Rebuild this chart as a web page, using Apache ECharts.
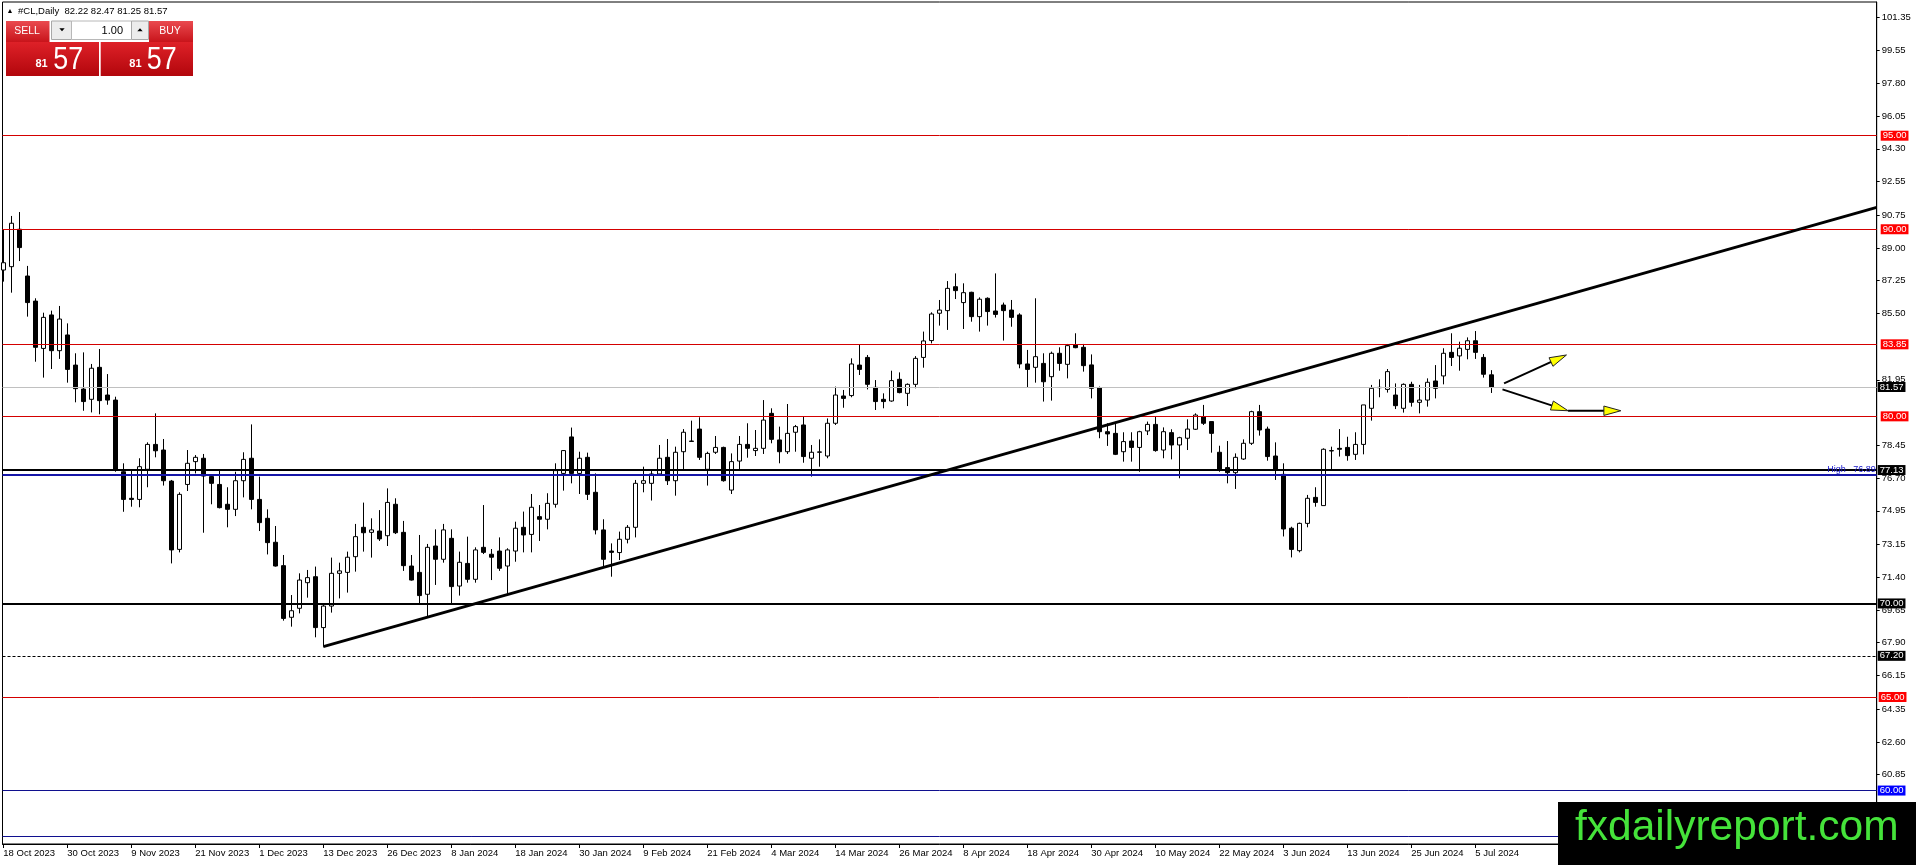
<!DOCTYPE html>
<html><head><meta charset="utf-8">
<script src="https://cdn.jsdelivr.net/npm/echarts@6/dist/echarts.min.js"></script>
<style>html,body{margin:0;padding:0;background:#fff;overflow:hidden}#c{width:1916px;height:865px}</style>
</head><body><div id="c"></div>
<script>
// ---- data ----
const symbolName = '#CL,Daily';
const dateLabels = ['18 Oct 2023','30 Oct 2023','9 Nov 2023','21 Nov 2023','1 Dec 2023','13 Dec 2023','26 Dec 2023','8 Jan 2024','18 Jan 2024','30 Jan 2024','9 Feb 2024','21 Feb 2024','4 Mar 2024','14 Mar 2024','26 Mar 2024','8 Apr 2024','18 Apr 2024','30 Apr 2024','10 May 2024','22 May 2024','3 Jun 2024','13 Jun 2024','25 Jun 2024','5 Jul 2024'];
const dateLabelIdx = [0,8,16,24,32,40,48,56,64,72,80,88,96,104,112,120,128,136,144,152,160,168,176,184];
const opens = [87.82,88.00,90.00,87.50,86.16,83.63,85.42,83.51,84.35,82.74,
81.46,80.91,82.62,81.14,80.87,77.04,75.62,75.56,77.17,78.50,
78.20,76.54,72.89,76.36,77.58,77.76,76.78,76.36,75.30,75.03,
76.56,77.76,75.56,74.55,73.27,72.02,69.26,69.74,71.11,71.43,
68.71,69.86,71.61,71.66,72.50,74.07,73.80,73.87,73.62,75.30,
73.80,72.00,71.66,70.49,73.07,72.36,73.48,70.93,72.14,71.29,
73.00,72.63,72.80,72.00,72.80,74.07,73.69,74.64,74.50,75.30,
76.95,78.90,76.95,77.81,75.94,73.93,72.80,72.72,73.43,74.07,
76.42,76.42,76.92,77.81,76.56,78.11,78.68,79.32,77.17,78.08,
78.34,76.06,77.61,78.50,78.17,78.29,80.16,78.74,78.11,79.15,
79.54,77.76,78.08,77.88,79.63,81.09,81.11,82.74,83.15,81.55,
80.91,80.82,81.98,81.23,81.71,83.15,84.05,85.51,85.65,86.93,
86.08,86.63,85.33,86.31,85.63,85.95,85.68,85.42,82.80,82.62,
82.83,82.12,83.37,82.78,83.81,83.69,82.75,81.53,79.18,79.09,
78.11,78.68,78.34,79.22,79.57,78.20,79.13,78.47,78.83,79.31,
79.98,79.72,78.08,77.26,76.99,77.72,78.56,80.25,79.32,77.88,
76.90,74.02,72.82,74.28,75.67,75.23,78.15,78.29,78.34,77.97,
78.50,80.43,81.53,81.44,81.14,80.43,81.71,80.75,80.87,81.89,
82.16,83.42,83.23,83.58,84.04,83.15,82.22];
const highs = [89.96,90.71,90.92,88.04,86.31,85.54,85.65,85.90,84.97,83.37,
83.42,82.80,83.60,82.26,81.05,77.49,77.10,77.76,78.61,80.16,
78.79,76.60,75.94,78.20,77.93,77.99,76.81,77.10,76.21,77.04,
78.08,79.57,76.78,75.03,74.14,72.59,70.45,71.61,71.79,71.97,
69.92,72.45,72.18,72.77,74.25,75.39,74.55,74.99,76.15,75.62,
74.41,72.59,73.66,73.18,73.96,74.25,73.96,72.77,73.57,73.00,
75.26,72.91,73.53,72.95,74.37,74.91,75.85,75.26,75.89,77.49,
78.20,79.40,78.11,78.06,76.95,74.50,73.21,73.84,74.19,76.60,
77.31,77.10,78.47,78.79,78.38,79.32,79.77,79.95,78.11,78.95,
78.38,78.02,78.95,79.63,79.27,80.87,80.43,79.45,80.66,79.54,
79.98,78.47,78.77,79.89,81.59,81.41,83.10,83.83,83.28,81.94,
81.23,82.44,82.35,81.76,83.22,84.53,85.56,86.22,87.23,87.64,
87.11,86.66,86.36,86.36,87.64,86.08,86.22,85.51,83.55,86.31,
83.37,83.46,83.69,83.87,84.44,83.87,83.31,81.59,79.63,79.59,
79.15,79.15,79.23,79.72,79.98,79.41,79.31,78.91,79.84,80.16,
80.61,79.72,78.43,78.68,78.02,78.77,80.30,80.61,79.45,78.61,
77.49,74.10,74.32,75.80,76.21,78.29,78.38,79.32,78.91,79.15,
80.61,81.68,81.98,82.53,81.76,81.76,81.85,81.68,82.03,82.74,
83.64,84.44,83.99,84.22,84.56,83.33,82.47];
const lows = [87.20,86.61,88.30,85.33,82.92,82.07,82.53,83.07,81.80,80.75,
80.30,80.21,80.11,80.62,77.04,74.90,75.17,75.14,76.21,77.81,
76.30,72.14,72.73,76.01,76.95,73.78,75.30,75.08,74.07,74.67,
75.67,75.03,73.87,72.62,71.97,69.08,68.76,69.47,70.31,68.19,
67.69,69.51,70.27,70.58,71.70,72.77,72.45,73.34,73.07,73.71,
71.74,71.22,70.01,69.29,70.99,72.18,70.01,70.42,71.11,71.11,
72.64,71.25,71.74,70.50,72.23,72.73,72.73,73.34,73.96,75.12,
76.03,76.42,75.85,75.53,73.69,71.97,71.43,72.32,73.21,73.53,
75.94,75.50,76.83,76.33,75.76,77.17,78.65,77.67,76.30,77.99,
76.51,75.85,77.17,77.79,77.88,77.99,78.56,77.49,77.99,78.11,
77.52,76.78,77.31,77.76,79.54,80.46,81.02,82.21,81.44,80.34,
80.43,80.78,81.23,80.55,81.50,82.60,83.90,84.85,84.62,86.27,
84.67,85.06,84.53,84.85,85.28,84.05,84.79,82.57,81.53,81.80,
80.79,80.84,82.44,82.03,83.64,82.39,80.96,78.83,78.42,77.93,
77.58,77.58,77.04,79.00,78.11,77.76,77.70,76.69,78.20,79.27,
79.54,78.06,77.04,76.42,76.12,77.67,78.47,78.97,77.63,76.60,
73.58,72.46,72.73,74.07,75.17,75.23,77.13,77.85,77.63,77.67,
77.97,79.77,81.02,81.27,80.39,80.20,80.52,80.16,80.52,80.96,
81.71,82.69,82.44,83.05,83.07,82.07,81.25];
const closes = [88.21,90.32,89.02,86.08,83.69,85.29,83.51,85.20,82.51,81.48,
80.79,82.57,80.84,80.87,77.13,75.56,75.56,77.31,78.50,78.16,
76.56,72.86,75.83,77.49,77.81,76.81,76.42,75.12,75.03,76.56,
77.70,75.56,74.32,73.25,72.00,69.20,69.61,71.25,71.38,68.71,
69.86,71.61,71.74,72.47,73.57,73.78,73.93,73.45,75.40,73.78,
72.02,71.25,70.42,73.00,72.36,73.93,70.90,72.20,71.29,72.86,
72.73,72.47,71.88,72.86,74.02,73.66,75.14,74.50,75.35,77.10,
78.17,76.95,77.76,75.83,73.93,72.36,72.73,73.43,74.07,76.42,
76.56,76.92,77.76,76.56,78.08,79.15,78.66,77.81,78.02,78.34,
76.56,77.58,78.50,78.29,78.29,79.80,78.77,78.11,79.09,79.45,
77.85,78.08,78.10,79.63,81.14,80.96,82.80,82.51,81.71,80.79,
80.79,81.91,81.27,81.71,83.10,84.03,85.47,85.68,86.84,86.72,
86.61,85.33,86.26,85.60,85.45,85.65,85.29,82.80,82.51,83.19,
81.85,83.37,82.83,83.78,83.67,82.71,81.50,79.18,79.06,77.97,
78.65,78.34,79.18,79.57,78.17,79.18,78.47,78.86,79.32,80.07,
79.63,79.09,77.13,76.99,77.81,78.56,80.25,79.27,77.85,77.13,
73.98,72.89,74.28,75.62,75.40,78.24,78.17,78.24,77.90,78.50,
80.61,81.50,81.55,82.39,80.57,81.71,80.75,80.87,81.82,81.50,
83.37,83.15,83.64,84.04,83.42,82.25,81.57];
const yTicks = [101.35,99.55,97.80,96.05,94.30,92.55,90.75,89.00,87.25,85.50,81.95,78.45,76.70,74.95,73.15,71.40,69.65,67.90,66.15,64.35,62.60,60.85];
const levelPrices = [95.00,90.00,83.85,81.57,80.00,77.13,76.89,70.00,67.20,65.00,60.00,57.55];
const trendLine = [[40,67.69],[234.18,91.17]];
const arrowPaths = [
  [[187.6,81.76],[195.4,83.28]],
  [[187.4,81.44],[195.6,80.30]],
  [[195.6,80.30],[202.2,80.30]]
];
const lotSize = '1.00';

// ---- styles ----
const FONT = 'Liberation Sans';
const RED = '#d40000', REDBOX = '#ff0000';
const levelStyles = [
  {line:RED, w:1, bg:REDBOX, d:4},
  {line:RED, w:1, bg:REDBOX, d:4},
  {line:RED, w:1, bg:REDBOX, d:4},
  {line:'#c0c0c0', w:1, bg:'#000', d:1},
  {line:RED, w:1, bg:REDBOX, d:4},
  {line:'#000', w:2, bg:'#000', d:1},
  {line:'#1515a8', w:2, high:true},
  {line:'#000', w:2, bg:'#000', d:1},
  {line:'#000', w:1, bg:'#000', d:1, dash:[3,2]},
  {line:RED, w:1, bg:REDBOX, d:2},
  {line:'#10108f', w:1, bg:'#0000ff', d:1},
  {line:'#10108f', w:1, none:true}
];

const candleData = opens.map((o,i)=>[i, o, closes[i], lows[i], highs[i]]);
const labelMap = {};
dateLabelIdx.forEach((v,k)=>{ labelMap[v] = dateLabels[k]; });

const markData = levelPrices.map((p,i)=>{
  const s = levelStyles[i];
  const item = {yAxis:p, lineStyle:{color:s.line, width:s.w, type: s.dash ? s.dash : 'solid'}};
  if (s.none) item.label = {show:false};
  else if (s.high) item.label = {show:true, position:'insideEndTop', formatter:'High   '+p.toFixed(2), color:'#1515c8', fontSize:9, fontFamily:FONT, distance:1};
  else item.label = {show:true, position:'end', formatter:p.toFixed(2), color:'#fff', backgroundColor:s.bg, fontSize:9.5, fontFamily:FONT, lineHeight:10, padding:[0,2,0,2], distance:s.d};
  return item;
});

const last = opens.length-1;
const headerText = symbolName+'  '+opens[last].toFixed(2)+' '+highs[last].toFixed(2)+' '+lows[last].toFixed(2)+' '+closes[last].toFixed(2);
const bidStr = closes[last].toFixed(2);
const bigPart = bidStr.split('.')[0], smallPart = bidStr.split('.')[1];

function grad(a,b){return new echarts.graphic.LinearGradient(0,0,0,1,[{offset:0,color:a},{offset:1,color:b}]);}

const chart = echarts.init(document.getElementById('c'), null, {renderer:'canvas'});
chart.setOption({
  animation:false,
  backgroundColor:'#fff',
  textStyle:{fontFamily:FONT},
  grid:{left:2.5, right:39.3, top:2, bottom:21, show:true, borderColor:'#000', borderWidth:1, backgroundColor:'#fff', containLabel:false, outerBoundsMode:'none'},
  xAxis:{type:'value', min:-0.1, max:234.18, position:'bottom',
    axisLine:{show:true, onZero:false, lineStyle:{color:'#000', width:1}},
    axisTick:{show:true, customValues:dateLabelIdx, length:4, lineStyle:{color:'#000'}},
    axisLabel:{show:true, customValues:dateLabelIdx, formatter:v=>labelMap[v]||'', align:'left', color:'#000', fontSize:9.5, fontFamily:FONT, margin:4},
    splitLine:{show:false}},
  yAxis:{type:'value', position:'right', min:57.143, max:102.146,
    axisLine:{show:true, onZero:false, lineStyle:{color:'#000', width:1}},
    axisTick:{show:true, customValues:yTicks, length:3, lineStyle:{color:'#000'}},
    axisLabel:{show:true, customValues:yTicks, formatter:v=>v.toFixed(2), color:'#000', fontSize:9.5, fontFamily:FONT, margin:5},
    splitLine:{show:false}},
  series:[
    {type:'candlestick', z:2, clip:true, barWidth:4,
     dimensions:['idx','open','close','lowest','highest'],
     encode:{x:0, y:[1,2,3,4]},
     data:candleData,
     itemStyle:{color:'#fff', color0:'#000', borderColor:'#000', borderColor0:'#000', borderColorDoji:'#000', borderWidth:1}},
    {type:'line', z:3, data:[], silent:true,
     markLine:{silent:true, symbol:['none','none'], animation:false, z:5, data:markData}},
    {type:'line', z:6, data:trendLine, showSymbol:false, symbol:'none', clip:true, silent:true,
     lineStyle:{color:'#000', width:3}},
    {type:'custom', z:7, silent:true, clip:false,
     encode:{x:0, y:1},
     data:arrowPaths.map(s=>[s[0][0], s[0][1]]),
     renderItem:function(params, api){
       const seg = arrowPaths[params.dataIndex];
       const a = api.coord(seg[0]), b = api.coord(seg[1]);
       const dx=b[0]-a[0], dy=b[1]-a[1], len=Math.hypot(dx,dy), ux=dx/len, uy=dy/len;
       const hl=17, hw=4.7;
       const bx=b[0]-ux*hl, by=b[1]-uy*hl;
       return {type:'group', children:[
         {type:'line', shape:{x1:a[0],y1:a[1],x2:bx+ux*2,y2:by+uy*2}, style:{stroke:'#000', lineWidth:2}},
         {type:'polygon', shape:{points:[[b[0],b[1]],[bx-uy*hw,by+ux*hw],[bx+uy*hw,by-ux*hw]]}, style:{fill:'#ffff00', stroke:'#222', lineWidth:1}}
       ]};
     }}
  ],
  graphic:[
    {type:'text', z:100, x:6.5, y:11, style:{text:'▲', font:'7px '+FONT, fill:'#000', textVerticalAlign:'middle'}},
    {type:'text', z:100, x:18, y:11, style:{text:headerText, font:'9.5px '+FONT, fill:'#000', textVerticalAlign:'middle'}},
    {type:'rect', z:100, shape:{x:6, y:21, width:43.5, height:21}, style:{fill:grad('#ea4a4f','#c8141b')}},
    {type:'rect', z:100, shape:{x:51.5, y:21, width:20, height:18.5}, style:{fill:'#ececec', stroke:'#a8a8a8', lineWidth:1}},
    {type:'polygon', z:101, shape:{points:[[59.3,28.3],[64.7,28.3],[62,31.2]]}, style:{fill:'#000'}},
    {type:'rect', z:100, shape:{x:71.5, y:21, width:60, height:18.5}, style:{fill:'#fff', stroke:'#b8b8b8', lineWidth:1}},
    {type:'text', z:101, x:123, y:30.5, style:{text:lotSize, font:'11px '+FONT, fill:'#000', textAlign:'right', textVerticalAlign:'middle'}},
    {type:'rect', z:100, shape:{x:131.5, y:21, width:17, height:18.5}, style:{fill:'#ececec', stroke:'#a8a8a8', lineWidth:1}},
    {type:'polygon', z:101, shape:{points:[[137.3,31.2],[142.7,31.2],[140,28.3]]}, style:{fill:'#000'}},
    {type:'rect', z:100, shape:{x:149, y:21, width:44, height:21}, style:{fill:grad('#ea4a4f','#c8141b')}},
    {type:'text', z:101, x:27, y:31, style:{text:'SELL', font:'10.5px '+FONT, fill:'#fff', textAlign:'center', textVerticalAlign:'middle'}},
    {type:'text', z:101, x:170, y:31, style:{text:'BUY', font:'10.5px '+FONT, fill:'#fff', textAlign:'center', textVerticalAlign:'middle'}},
    {type:'rect', z:100, shape:{x:6, y:42, width:93, height:34}, style:{fill:grad('#de2128','#b2060c')}},
    {type:'rect', z:100, shape:{x:100.7, y:42, width:92.3, height:34}, style:{fill:grad('#de2128','#b2060c')}},
    {type:'text', z:101, x:35.5, y:64, style:{text:bigPart, font:'bold 11px '+FONT, fill:'#fff', textVerticalAlign:'middle'}},
    {type:'text', z:101, x:129.3, y:64, style:{text:bigPart, font:'bold 11px '+FONT, fill:'#fff', textVerticalAlign:'middle'}},
    {type:'text', z:101, x:53.3, y:60, scaleX:0.84, style:{text:smallPart, font:'32px '+FONT, fill:'#fff', textVerticalAlign:'middle'}},
    {type:'text', z:101, x:146.7, y:60, scaleX:0.84, style:{text:smallPart, font:'32px '+FONT, fill:'#fff', textVerticalAlign:'middle'}},
    {type:'rect', z:200, shape:{x:1558, y:802, width:358, height:63}, style:{fill:'#000'}},
    {type:'text', z:201, x:1575, y:828.6, style:{text:'fxdailyreport.com', font:'42.5px '+FONT, fill:'#45e33a', textVerticalAlign:'middle'}}
  ]
});
</script>
</body></html>
